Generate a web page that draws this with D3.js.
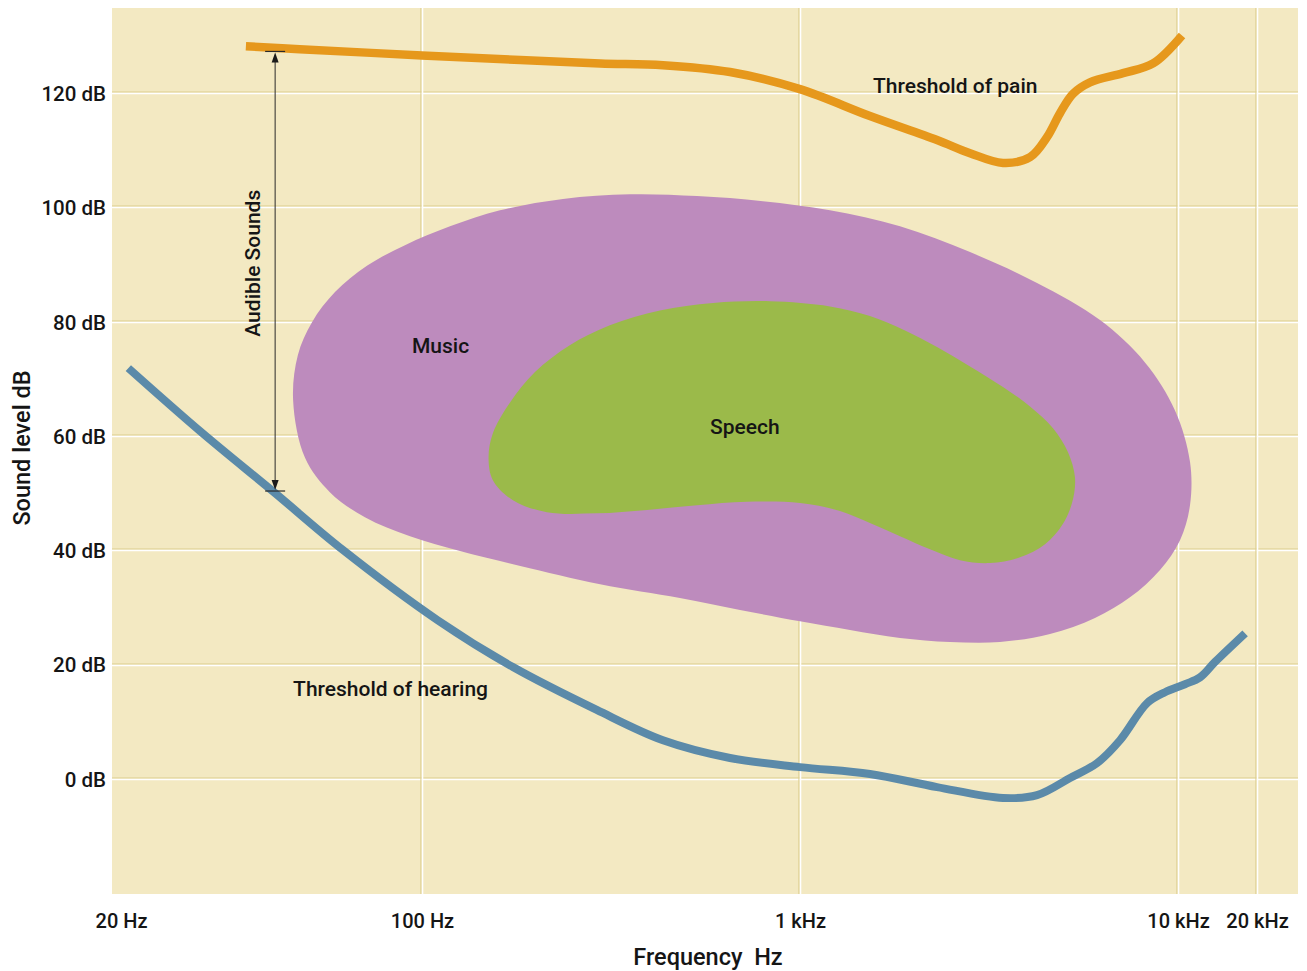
<!DOCTYPE html>
<html>
<head>
<meta charset="utf-8">
<script src="https://cdn.jsdelivr.net/npm/d3@7"></script>
<style>
  html, body { margin: 0; padding: 0; background: #ffffff; }
  svg { display: block; }
  text { font-family: Roboto, "Noto Sans", sans-serif; fill: #151515; }
</style>
</head>
<body>
<svg id="chart" width="1307" height="971"></svg>
<script>
// ---------- data (frequency in Hz, level in dB) ----------
const xTickValues = [20, 100, 1000, 10000, 20000];
const xTickLabels = ["20 Hz", "100 Hz", "1 kHz", "10 kHz", "20 kHz"];
const yTickValues = [0, 20, 40, 60, 80, 100, 120];
const yTickLabels = ["0 dB", "20 dB", "40 dB", "60 dB", "80 dB", "100 dB", "120 dB"];

const painFreq = [39, 52, 100, 182, 296, 434, 653, 1000, 1531, 2304, 2817, 3444, 4060, 4502, 4873, 5276, 5850, 7153, 8590, 10360];
const painDb   = [128.2, 127.7, 126.6, 125.8, 125.2, 124.9, 123.7, 120.7, 116.0, 111.8, 109.5, 107.8, 108.8, 112.3, 116.5, 119.9, 121.9, 123.5, 125.2, 130.1];

const hearingFreq = [20.8, 30.5, 45.3, 65.5, 110, 174, 290, 434, 653, 1000, 1531, 2304, 3444, 4237, 5180, 6106, 7024, 8285, 9239, 10630, 12130, 13840, 18020];
const hearingDb   = [71.9, 60.9, 50.2, 40.1, 27.8, 19.6, 12.1, 6.8, 3.7, 2.1, 0.9, -1.4, -3.3, -2.8, 0.2, 2.8, 6.8, 13.3, 15.2, 16.6, 17.8, 20.5, 25.5];

const musicFreq = [50.2, 51.5, 55.5, 62.8, 74.5, 91.3, 118.6, 160.8, 236, 355, 534, 798, 1200, 1839, 2817, 4237, 6219, 8177, 9819, 11110, 11110, 10180, 8962, 7464, 6031, 4585, 3381, 2494, 1839, 1356, 1000, 694, 481, 296, 182, 126, 93.8, 73.7, 61.1, 53.5];
const musicDb   = [66.3, 74.2, 79.9, 85.2, 89.8, 93.4, 96.7, 99.5, 101.5, 102.3, 102.0, 101.1, 99.5, 96.7, 92.2, 86.8, 80.3, 72.9, 64.5, 55.5, 47.9, 41.8, 36.6, 31.8, 28.2, 25.4, 24.0, 24.0, 24.7, 26.1, 27.6, 29.6, 31.7, 34.1, 37.3, 39.9, 42.5, 45.8, 50.2, 56.2];

const speechFreq = [150, 154, 171, 199, 246, 314, 426, 589, 833, 1200, 1531, 1896, 2304, 2817, 3444, 4060, 4671, 5117, 5340, 5243, 4934, 4448, 3819, 3182, 2650, 2208, 1839, 1531, 1276, 1000, 724, 534, 394, 290, 214, 174, 154];
const speechDb   = [56.3, 60.5, 65.9, 71.2, 75.9, 79.4, 82.0, 83.3, 83.6, 82.7, 81.0, 78.5, 75.6, 72.2, 68.6, 65.2, 61.4, 57.2, 52.7, 48.3, 44.4, 41.1, 38.8, 37.8, 38.3, 40.2, 42.5, 44.8, 46.9, 48.3, 48.5, 47.9, 47.1, 46.5, 46.7, 48.8, 52.3];

const audibleFreq = 45.6;
const audibleRange = [50.4, 127.3];

const labelsText = [
  { text: "Threshold of pain", f: 1560, db: 120.0 },
  { text: "Music", f: 94.8, db: 74.5 },
  { text: "Speech", f: 578, db: 60.3 },
  { text: "Threshold of hearing", f: 50.2, db: 14.5 }
];

// ---------- layout ----------
const svg = d3.select("#chart");
const plot = { left: 112, right: 1298, top: 8, bottom: 894 };

// piecewise logarithmic frequency scale (as drawn in the original)
const x = d3.scaleLog()
  .domain([20, 100, 1000, 10000, 20000])
  .range([121, 422, 800, 1178, 1257]);
const y = d3.scaleLinear()
  .domain([-20.1, 134.9])
  .range([plot.bottom, plot.top]);

// background
svg.append("rect")
  .attr("x", plot.left).attr("y", plot.top)
  .attr("width", plot.right - plot.left).attr("height", plot.bottom - plot.top)
  .attr("fill", "#f3e9c2");

// grid
const grid = svg.append("g");
yTickValues.forEach(v => {
  const yy = Math.round(y(v));
  grid.append("line").attr("x1", plot.left).attr("x2", plot.right)
    .attr("y1", yy - 1).attr("y2", yy - 1)
    .attr("stroke", "#dccd8c").attr("stroke-width", 1.2);
  grid.append("line").attr("x1", plot.left).attr("x2", plot.right)
    .attr("y1", yy + 0.5).attr("y2", yy + 0.5)
    .attr("stroke", "#ffffff").attr("stroke-width", 1.6);
});
xTickValues.slice(1).forEach(v => {
  const xx = Math.round(x(v));
  grid.append("line").attr("y1", plot.top).attr("y2", plot.bottom)
    .attr("x1", xx - 1).attr("x2", xx - 1)
    .attr("stroke", "#dccd8c").attr("stroke-width", 1.2);
  grid.append("line").attr("y1", plot.top).attr("y2", plot.bottom)
    .attr("x1", xx + 0.5).attr("x2", xx + 0.5)
    .attr("stroke", "#ffffff").attr("stroke-width", 1.6);
});

// blobs
const blob = d3.line().x(d => x(d[0])).y(d => y(d[1])).curve(d3.curveCatmullRomClosed.alpha(0.5));
svg.append("path")
  .attr("d", blob(d3.zip(musicFreq, musicDb)))
  .attr("fill", "#bd8bbd");
svg.append("path")
  .attr("d", blob(d3.zip(speechFreq, speechDb)))
  .attr("fill", "#9bba4a");

// curves
const curve = d3.line().x(d => x(d[0])).y(d => y(d[1])).curve(d3.curveCatmullRom.alpha(0.5));
svg.append("path")
  .attr("d", curve(d3.zip(painFreq, painDb)))
  .attr("fill", "none").attr("stroke", "#e6981c").attr("stroke-width", 8.5)
  .attr("stroke-linecap", "butt").attr("stroke-linejoin", "round");
svg.append("path")
  .attr("d", curve(d3.zip(hearingFreq, hearingDb)))
  .attr("fill", "none").attr("stroke", "#5b8aa9").attr("stroke-width", 8)
  .attr("stroke-linecap", "butt").attr("stroke-linejoin", "round");

// audible range arrow
const ax = x(audibleFreq);
const yTop = y(audibleRange[1]), yBot = y(audibleRange[0]);
const arr = svg.append("g").attr("stroke", "#2a2a2a");
arr.append("line").attr("x1", ax).attr("x2", ax).attr("y1", yTop + 6).attr("y2", yBot - 6).attr("stroke-width", 1);
arr.append("line").attr("x1", ax - 10).attr("x2", ax + 10).attr("y1", yTop).attr("y2", yTop).attr("stroke-width", 1.2);
arr.append("line").attr("x1", ax - 10).attr("x2", ax + 10).attr("y1", yBot).attr("y2", yBot).attr("stroke-width", 1.2);
svg.append("path").attr("fill", "#1a1a1a")
  .attr("d", `M${ax},${yTop + 1} L${ax - 3.5},${yTop + 11} L${ax + 3.5},${yTop + 11} Z`);
svg.append("path").attr("fill", "#1a1a1a")
  .attr("d", `M${ax},${yBot - 1} L${ax - 3.5},${yBot - 11} L${ax + 3.5},${yBot - 11} Z`);
svg.append("text")
  .attr("transform", `translate(${ax - 15},${(yTop + yBot) / 2 - 8}) rotate(-90)`)
  .attr("text-anchor", "middle")
  .attr("font-size", 21).attr("font-weight", 500)
  .text("Audible Sounds");

// in-chart labels
labelsText.forEach(l => {
  svg.append("text")
    .attr("x", x(l.f)).attr("y", y(l.db))
    .attr("font-size", 21).attr("font-weight", 500)
    .text(l.text);
});

// axes
const xAxis = d3.axisBottom(x).tickValues(xTickValues)
  .tickFormat((d, i) => xTickLabels[i]).tickSize(0).tickPadding(0);
const gx = svg.append("g").attr("transform", `translate(0,${plot.bottom + 34})`).call(xAxis);
gx.select(".domain").remove();
gx.selectAll("text").attr("font-size", 20).attr("font-weight", 500)
  .attr("fill", "#151515").attr("font-family", "Roboto, sans-serif").attr("dy", 0);

const yAxis = d3.axisLeft(y).tickValues(yTickValues)
  .tickFormat((d, i) => yTickLabels[i]).tickSize(0).tickPadding(0);
const gy = svg.append("g").attr("transform", `translate(${plot.left - 6},0)`).call(yAxis);
gy.select(".domain").remove();
gy.selectAll("text").attr("font-size", 20.5).attr("font-weight", 500)
  .attr("fill", "#151515").attr("font-family", "Roboto, sans-serif").attr("dy", "0.35em");

// axis titles
svg.append("text")
  .attr("x", 708).attr("y", 965)
  .attr("text-anchor", "middle")
  .attr("font-size", 23.5).attr("font-weight", 500)
  .attr("xml:space", "preserve")
  .text("Frequency  Hz");
svg.append("text")
  .attr("transform", "translate(30,448) rotate(-90)")
  .attr("text-anchor", "middle")
  .attr("font-size", 23.5).attr("font-weight", 500)
  .text("Sound level dB");
</script>
</body>
</html>
